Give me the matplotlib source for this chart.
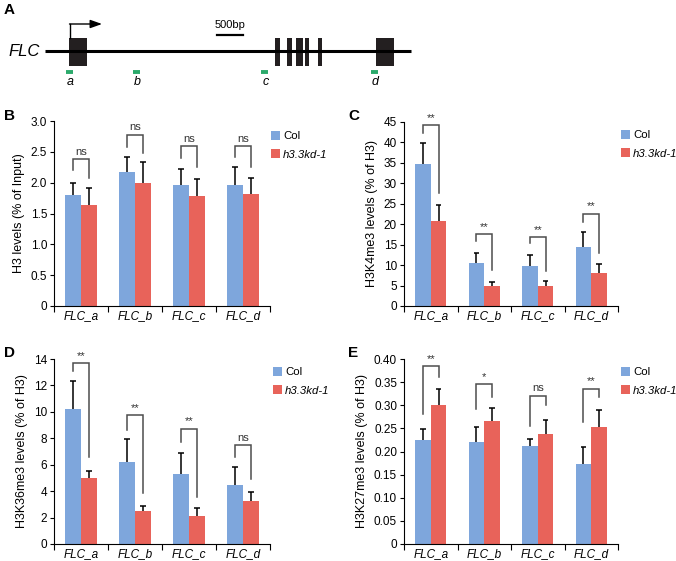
import matplotlib
matplotlib.use("Agg")
import matplotlib.pyplot as plt
from matplotlib.patches import Rectangle, Patch
import numpy as np

plt.rcParams['font.family'] = ['Liberation Sans', 'DejaVu Sans']

W, H = 676, 561

# ---------------- data ----------------
categories = ["FLC_a", "FLC_b", "FLC_c", "FLC_d"]
series_names = ["Col", "h3.3kd-1"]

# Panel B: H3
b_col = [1.80, 2.18, 1.97, 1.97]
b_col_err = [0.20, 0.24, 0.25, 0.28]
b_kd = [1.63, 2.00, 1.78, 1.81]
b_kd_err = [0.29, 0.33, 0.28, 0.27]
b_sig = ["ns", "ns", "ns", "ns"]
b_brk_top = [2.38, 2.78, 2.59, 2.59]
b_brk_left = [2.21, 2.58, 2.40, 2.42]
b_brk_right = [2.07, 2.48, 2.25, 2.26]

# Panel C: H3K4me3
c_col = [34.8, 10.4, 9.8, 14.5]
c_col_err = [5.0, 2.5, 2.6, 3.6]
c_kd = [20.9, 4.9, 4.9, 8.1]
c_kd_err = [3.7, 1.0, 1.1, 2.1]
c_sig = ["**", "**", "**", "**"]
c_brk_top = [44.2, 17.5, 16.9, 22.6]
c_brk_left = [42.3, 15.9, 15.3, 20.6]
c_brk_right = [27.7, 8.8, 8.5, 12.9]

# Panel D: H3K36me3
d_col = [10.2, 6.23, 5.30, 4.49]
d_col_err = [2.1, 1.69, 1.56, 1.36]
d_kd = [4.97, 2.52, 2.14, 3.23]
d_kd_err = [0.58, 0.38, 0.61, 0.71]
d_sig = ["**", "**", "**", "ns"]
d_brk_top = [13.67, 9.76, 8.73, 7.49]
d_brk_left = [13.1, 8.63, 7.7, 6.56]
d_brk_right = [6.56, 3.83, 3.58, 4.9]

# Panel E: H3K27me3
e_col = [0.225, 0.221, 0.212, 0.174]
e_col_err = [0.023, 0.033, 0.016, 0.036]
e_kd = [0.301, 0.267, 0.238, 0.254]
e_kd_err = [0.034, 0.028, 0.030, 0.036]
e_sig = ["**", "*", "ns", "**"]
e_brk_top = [0.384, 0.345, 0.321, 0.336]
e_brk_left = [0.281, 0.292, 0.255, 0.263]
e_brk_right = [0.362, 0.317, 0.301, 0.317]

BLUE = "#7EA6DC"
RED = "#E8635A"
GREEN = "#2BAA6B"

fig = plt.figure(figsize=(W / 100, H / 100), dpi=100)


def fax(left, top, right, bottom):
    return fig.add_axes([left / W, 1 - bottom / H, (right - left) / W, (bottom - top) / H])


# ---------------- Panel A: gene model ----------------
axA = fax(0, 0, W, 100)
axA.set_xlim(0, W)
axA.set_ylim(100, 0)
axA.axis("off")
axA.plot([45, 411], [51, 51], color="black", lw=2.2, solid_capstyle="butt")
exons = [(69, 87), (275, 279.5), (287, 292), (296, 303), (305, 309), (318, 322), (376, 394)]
for x0, x1 in exons:
    axA.add_patch(Rectangle((x0, 38), x1 - x0, 28, color="#231F20", lw=0))
axA.plot([70, 70], [38, 24], color="black", lw=1.0)
axA.annotate("", xy=(102, 24), xytext=(69.5, 24),
             arrowprops=dict(arrowstyle="-|>,head_length=0.7,head_width=0.25", color="black", lw=1.0,
                             shrinkA=0, shrinkB=0))
axA.plot([217, 243], [34.5, 34.5], color="black", lw=1.6)
axA.text(230, 30, "500bp", ha="center", va="bottom", fontsize=8)
axA.text(8, 52, "FLC", ha="left", va="center", fontsize=12, style="italic")
for (x0, x1), lab in zip([(66, 73), (133, 140), (261, 268), (371, 378)], ["a", "b", "c", "d"]):
    axA.plot([x0, x1], [72, 72], color=GREEN, lw=2.8, solid_capstyle="butt")
    axA.text((x0 + x1) / 2 + 1, 82, lab, ha="center", va="center", fontsize=9, style="italic")


# ---------------- bar panels ----------------
def bar_panel(box, col, col_err, kd, kd_err, sig, btop, bleft, bright, ymax, ystep, ylabel, fmt):
    ax = fax(*box)
    x = np.arange(len(categories))
    bw = 0.29
    xc = x - bw / 2
    xk = x + bw / 2
    ax.bar(xc, col, width=bw, color=BLUE, lw=0, zorder=2)
    ax.bar(xk, kd, width=bw, color=RED, lw=0, zorder=2)
    cap = 0.055
    for xs, v, e in ((xc, col, col_err), (xk, kd, kd_err)):
        v = np.array(v); e = np.array(e)
        ax.vlines(xs, v, v + e, color="black", lw=1.1, zorder=3)
        ax.hlines(v + e, xs - cap, xs + cap, color="black", lw=1.1, zorder=3)
    for i in range(len(categories)):
        ax.plot([xc[i], xc[i], xk[i], xk[i]], [bleft[i], btop[i], btop[i], bright[i]],
                color="#4D4D4D", lw=1.1, zorder=4, solid_joinstyle="miter")
        ax.text(x[i], btop[i] + ymax * 0.012, sig[i], ha="center", va="bottom", fontsize=8,
                color="#333333")
    ax.set_xlim(-0.5, len(categories) - 0.5)
    ax.set_ylim(0, ymax)
    ax.set_yticks(np.arange(0, ymax + ystep / 2, ystep))
    ax.set_yticklabels(["0"] + [fmt.format(t) for t in np.arange(ystep, ymax + ystep / 2, ystep)])
    ax.set_xticks(x)
    ax.set_xticklabels(categories, style="italic", fontsize=8.5)
    ax.set_xticks(np.arange(-0.5, len(categories)), minor=True)
    ax.tick_params(axis="x", which="major", length=0, pad=3)
    ax.tick_params(axis="x", which="minor", length=4, direction="out", width=0.8)
    ax.tick_params(axis="y", length=3, direction="out", width=0.8, labelsize=8.5, pad=2)
    for s in ("top", "right"):
        ax.spines[s].set_visible(False)
    for s in ("left", "bottom"):
        ax.spines[s].set_linewidth(0.8)
    ax.set_ylabel(ylabel, fontsize=9, labelpad=4)
    return ax


def legend_at(xpix, ypix):
    handles = [Patch(color=BLUE, lw=0), Patch(color=RED, lw=0)]
    leg = fig.legend(handles, series_names, loc="upper left", bbox_to_anchor=(xpix / W, 1 - ypix / H),
                     frameon=False, fontsize=8.2, handlelength=0.8, handleheight=0.8,
                     handletextpad=0.25, labelspacing=0.7, borderpad=0, borderaxespad=0)
    leg.get_texts()[1].set_style("italic")


bar_panel((54, 121, 270, 306), b_col, b_col_err, b_kd, b_kd_err, b_sig,
          b_brk_top, b_brk_left, b_brk_right, 3.0, 0.5, "H3 levels (% of Input)", "{:.1f}")
legend_at(271, 131)

bar_panel((404, 122, 618, 306), c_col, c_col_err, c_kd, c_kd_err, c_sig,
          c_brk_top, c_brk_left, c_brk_right, 45, 5, "H3K4me3 levels (% of H3)", "{:.0f}")
legend_at(621, 130)

bar_panel((54, 359, 270, 544), d_col, d_col_err, d_kd, d_kd_err, d_sig,
          d_brk_top, d_brk_left, d_brk_right, 14, 2, "H3K36me3 levels (% of H3)", "{:.0f}")
legend_at(273, 367)

bar_panel((404, 359, 618, 544), e_col, e_col_err, e_kd, e_kd_err, e_sig,
          e_brk_top, e_brk_left, e_brk_right, 0.40, 0.05, "H3K27me3 levels (% of H3)", "{:.2f}")
legend_at(621, 367)

# panel letters
for lab, xp, yp in (("A", 4, 10), ("B", 4, 116), ("C", 348, 116), ("D", 4, 353), ("E", 348, 353)):
    fig.text(xp / W, 1 - yp / H, lab, fontsize=11, fontweight="bold", ha="left", va="center")

fig.savefig("out.png", dpi=100)
